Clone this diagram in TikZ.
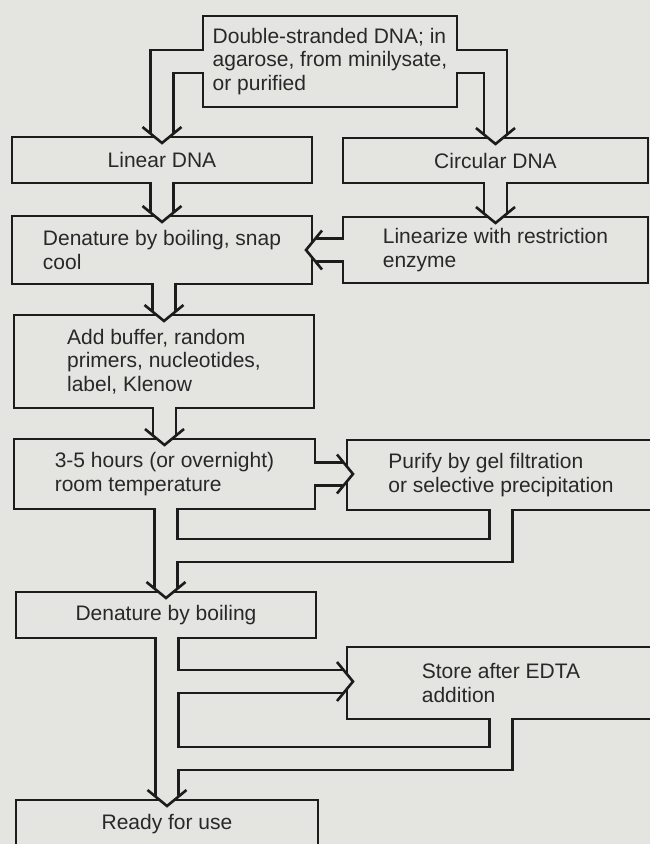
\documentclass[tikz,border=0pt]{standalone}
\usepackage{fontspec}
\setmainfont{Liberation Sans}
\usetikzlibrary{calc}
\definecolor{paper}{RGB}{228,228,225}
\definecolor{ink}{RGB}{28,28,28}
\definecolor{txt}{RGB}{40,40,40}
\tikzset{
  box/.style={draw=ink, fill=paper, line width=2.6pt, rectangle, inner sep=0pt,
    outer sep=0pt, align=left, text=txt, font=\fontsize{21}{23.5}\selectfont},
  pipe/.style 2 args={draw=#2, line width=#1pt, line join=miter, line cap=butt},
  wall/.style={draw=ink, line width=2.6pt, line join=miter},
}
% open arrow head of a hollow pipe; #1 = tip, #2 = rotation (0 points down)
\newcommand\pipehead[2]{%
  \begin{scope}[shift={#1}, rotate=#2]
    \fill[paper] (-10.2,-11) -- (-10.2,-8.37) -- (0,0) -- (10.2,-8.37) -- (10.2,-11) -- cycle;
    \draw[wall] (-19.5,-16) -- (0,0) -- (19.5,-16);
  \end{scope}}

\begin{document}
\begin{tikzpicture}[x=1pt, y=-1pt]
\useasboundingbox (0,0) rectangle (650,844);
\clip (0,0) rectangle (650,844);
\fill[paper] (0,0) rectangle (650,844);

% boxes
\node[box, minimum width=254pt, minimum height=91pt] (top) at (330,61.5)
  {Double-stranded DNA; in\\agarose, from minilysate,\\or purified};
\node[box, minimum width=300pt, minimum height=46pt] (lin) at (162,160) {Linear DNA};
\node[box, minimum width=305pt, minimum height=45pt] (circ) at (495.5,160.5) {Circular DNA};
\node[box, minimum width=300pt, minimum height=68pt] (den1) at (162,250)
  {Denature by boiling, snap\\cool};
\node[box, minimum width=305pt, minimum height=66pt] (linz) at (495.5,250)
  {Linearize with restriction\\enzyme};
\node[box, minimum width=300pt, minimum height=93pt] (add) at (164,361.5)
  {Add buffer, random\\primers, nucleotides,\\label, Klenow};
\node[box, minimum width=301pt, minimum height=70pt] (hrs) at (164.5,474)
  {3-5 hours (or overnight)\\room temperature};
\node[box, minimum width=308pt, minimum height=70pt] (pur) at (501,475)
  {Purify by gel filtration\\or selective precipitation};
\node[box, minimum width=300pt, minimum height=46pt] (den2) at (166,615) {Denature by boiling};
\node[box, minimum width=308pt, minimum height=72pt] (store) at (501,683)
  {Store after EDTA\\addition};
\node[box, minimum width=302pt, minimum height=48pt] (ready) at (167,824) {Ready for use};

% junctions where the side pipes meet the main column
\coordinate (j1) at (166,550.5);
\coordinate (j2) at (167,681.5);
\coordinate (j3) at (167,758.5);

% hollow pipes: dark walls first, then the light interiors on top
\foreach \lw/\lc in {25.6/ink, 20.4/paper} {
  \draw[pipe={\lw}{\lc}] ($(top.west)+(1.3,0)$) -| ($(lin.north)+(0,-3.44)$);
  \draw[pipe={\lw}{\lc}] ($(top.east)+(-1.3,0)$) -| ($(circ.north)+(0,-3.44)$);
  \draw[pipe={\lw}{\lc}] ($(lin.south -| den1.north)+(0,-1.3)$) -- ($(den1.north)+(0,-3.44)$);
  \draw[pipe={\lw}{\lc}] ($(circ.south -| linz.north)+(0,-1.3)$) -- ($(linz.north)+(0,-3.44)$);
  \draw[pipe={\lw}{\lc}] ($(linz.west)+(1.3,0)$) -- ($(linz.west -| den1.east)+(3.44,0)$);
  \draw[pipe={\lw}{\lc}] ($(den1.south -| add.north)+(0,-1.3)$) -- ($(add.north)+(0,-3.44)$);
  \draw[pipe={\lw}{\lc}] ($(add.south -| hrs.north)+(0,-1.3)$) -- ($(hrs.north)+(0,-3.44)$);
  \draw[pipe={\lw}{\lc}] ($(hrs.east)+(-1.3,0)$) -- ($(hrs.east -| pur.west)+(-3.44,0)$);
  \draw[pipe={\lw}{\lc}] ($(hrs.south -| den2.north)+(0,-1.3)$) -- ($(den2.north)+(0,-3.44)$);
  \draw[pipe={\lw}{\lc}] ($(pur.south)+(0,-1.3)$) |- (j1);
  \draw[pipe={\lw}{\lc}] ($(den2.south -| ready.north)+(0,-1.3)$) -- ($(ready.north)+(0,-3.44)$);
  \draw[pipe={\lw}{\lc}] (j2) -- ($(j2 -| store.west)+(-3.44,0)$);
  \draw[pipe={\lw}{\lc}] ($(store.south)+(0,-1.3)$) |- (j3);
}

% arrow heads
\pipehead{($(lin.north)+(0,6)$)}{0}
\pipehead{($(circ.north)+(0,6)$)}{0}
\pipehead{($(den1.north)+(0,6)$)}{0}
\pipehead{($(linz.north)+(0,6)$)}{0}
\pipehead{($(linz.west -| den1.east)+(-6,0)$)}{-90}
\pipehead{($(add.north)+(0,6)$)}{0}
\pipehead{($(hrs.north)+(0,6)$)}{0}
\pipehead{($(hrs.east -| pur.west)+(6,0)$)}{90}
\pipehead{($(den2.north)+(0,6)$)}{0}
\pipehead{($(j2 -| store.west)+(6,0)$)}{90}
\pipehead{($(ready.north)+(0,6)$)}{0}
\end{tikzpicture}
\end{document}
